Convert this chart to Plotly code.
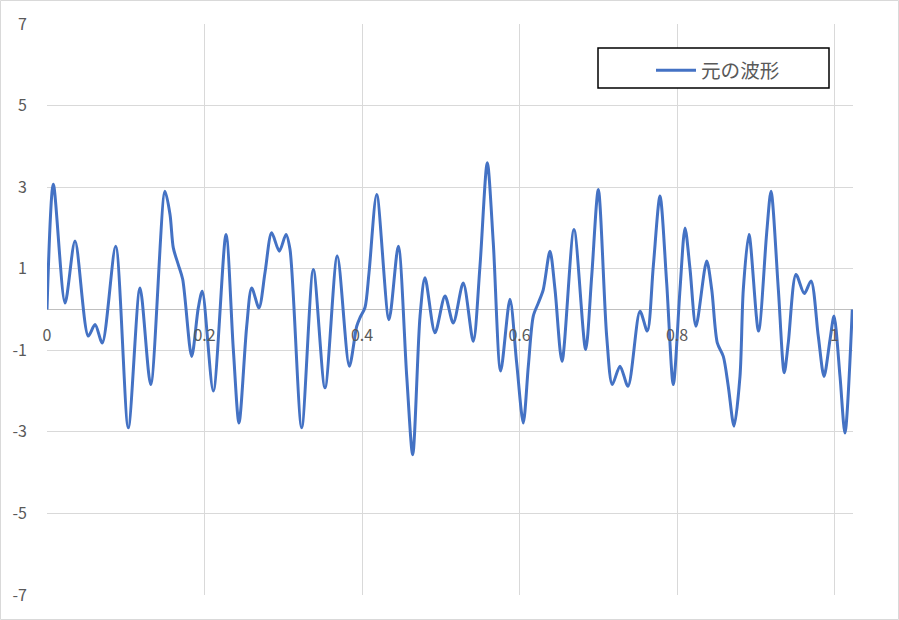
import plotly.graph_objects as go

# Waveform (time, amplitude)
t_vals = [0.0000, 0.0080, 0.0229, 0.0356, 0.0524, 0.0610, 0.0702, 0.0872, 0.1032, 0.1181,
          0.1317, 0.1498, 0.1562, 0.1604, 0.1667, 0.1723, 0.1837, 0.1921, 0.1972, 0.2112,
          0.2273, 0.2366, 0.2438, 0.2536, 0.2599, 0.2692, 0.2768, 0.2853, 0.2950, 0.3035,
          0.3086, 0.3234, 0.3382, 0.3530, 0.3686, 0.3839, 0.3933, 0.3975, 0.4038, 0.4089,
          0.4187, 0.4343, 0.4461, 0.4568, 0.4644, 0.4737, 0.4800, 0.4927, 0.5054, 0.5159,
          0.5286, 0.5413, 0.5498, 0.5591, 0.5667, 0.5761, 0.5879, 0.5964, 0.6048, 0.6112,
          0.6175, 0.6239, 0.6302, 0.6387, 0.6451, 0.6540, 0.6692, 0.6840, 0.6917, 0.7001,
          0.7107, 0.7178, 0.7276, 0.7378, 0.7530, 0.7623, 0.7699, 0.7784, 0.7869, 0.7953,
          0.8038, 0.8102, 0.8165, 0.8241, 0.8377, 0.8441, 0.8512, 0.8588, 0.8651, 0.8724,
          0.8800, 0.8842, 0.8914, 0.9035, 0.9139, 0.9194, 0.9287, 0.9362, 0.9413, 0.9511,
          0.9617, 0.9702, 0.9794, 0.9867, 0.9943, 0.9994, 1.0070, 1.0133, 1.0226]
amp_vals = [0.00, 3.07, 0.16, 1.68, -0.65, -0.37, -0.82, 1.55, -2.90, 0.53,
            -1.84, 2.90, 2.33, 1.51, 1.10, 0.74, -1.15, 0.04, 0.45, -2.00,
            1.84, -0.98, -2.78, -0.41, 0.53, 0.04, 0.90, 1.88, 1.43, 1.84,
            1.47, -2.90, 0.98, -1.92, 1.31, -1.39, -0.41, -0.20, 0.05, 0.90,
            2.82, -0.25, 1.55, -1.64, -3.56, -0.16, 0.78, -0.57, 0.33, -0.33,
            0.65, -0.78, 1.06, 3.60, 1.64, -1.51, 0.25, -1.31, -2.78, -1.39,
            -0.16, 0.16, 0.49, 1.43, 0.49, -1.27, 1.96, -0.98, 0.82, 2.94,
            -0.65, -1.84, -1.39, -1.88, -0.04, -0.53, 1.06, 2.78, 0.65, -1.84,
            0.49, 2.00, 1.00, -0.41, 1.19, 0.49, -0.82, -1.15, -1.88, -2.86,
            -1.64, 0.49, 1.84, -0.53, 1.88, 2.90, 0.49, -1.55, -0.82, 0.86,
            0.39, 0.70, -0.65, -1.64, -0.74, -0.16, -1.64, -3.03, 0.00]

series_name = "元の波形"
x_tickvals = [0, 0.2, 0.4, 0.6, 0.8, 1.0]
x_ticktext = ["0", "0.2", "0.4", "0.6", "0.8", "1"]
y_tickvals = [-7, -5, -3, -1, 1, 3, 5, 7]
y_ticktext = ["-7", "-5", "-3", "-1", "1", "3", "5", "7"]

FONT = "Noto Sans CJK JP"
W, H = 899, 620
ML, MR, MT, MB = 47, 46, 24, 25
PW, PH = W - ML - MR, H - MT - MB

def px_to_paper_x(px):
    return (px - ML) / PW

def px_to_paper_y(py):
    return (H - MB - py) / PH

fig = go.Figure()
fig.add_trace(go.Scatter(
    x=t_vals, y=amp_vals, mode="lines", name=series_name,
    line=dict(color="#4472C4", width=3, shape="spline", smoothing=0.8),
    showlegend=True,
))

fig.update_layout(
    width=W, height=H,
    margin=dict(l=ML, r=MR, t=MT, b=MB, autoexpand=False),
    paper_bgcolor="white", plot_bgcolor="white",
    font=dict(family=FONT, color="#595959", size=16),
    showlegend=True,
    legend=dict(
        x=px_to_paper_x(651), y=px_to_paper_y(51), xanchor="left", yanchor="top",
        bgcolor="rgba(0,0,0,0)", borderwidth=0, itemwidth=40,
        font=dict(family=FONT, size=19.6, color="#595959"),
    ),
    xaxis=dict(
        range=[0, 1.0235], tickvals=x_tickvals, ticktext=x_ticktext,
        showgrid=True, gridcolor="#d9d9d9", gridwidth=1,
        zeroline=False, showline=False, ticks="",
        anchor="free", position=0.5, automargin=False,
        ticklabelstandoff=14, fixedrange=True,
    ),
    yaxis=dict(
        range=[-7, 7], tickvals=y_tickvals, ticktext=y_ticktext,
        showgrid=True, gridcolor="#d9d9d9", gridwidth=1,
        zeroline=True, zerolinecolor="#bfbfbf", zerolinewidth=1,
        showline=False, ticks="", automargin=False,
        ticklabelstandoff=19, fixedrange=True,
    ),
    shapes=[
        # legend box
        dict(type="rect", xref="paper", yref="paper",
             x0=px_to_paper_x(598), x1=px_to_paper_x(829),
             y0=px_to_paper_y(88), y1=px_to_paper_y(48),
             line=dict(color="black", width=1.5), fillcolor="white", layer="above"),
        # chart outer border
        dict(type="rect", xref="paper", yref="paper",
             x0=px_to_paper_x(0.5), x1=px_to_paper_x(W - 0.5),
             y0=px_to_paper_y(H - 0.5), y1=px_to_paper_y(0.5),
             line=dict(color="#d9d9d9", width=1), layer="below"),
    ],
)

fig.write_html(
    "out.html",
    config={"displayModeBar": False, "staticPlot": True},
    post_script="document.body.style.margin='0';document.body.style.overflow='hidden';",
)
